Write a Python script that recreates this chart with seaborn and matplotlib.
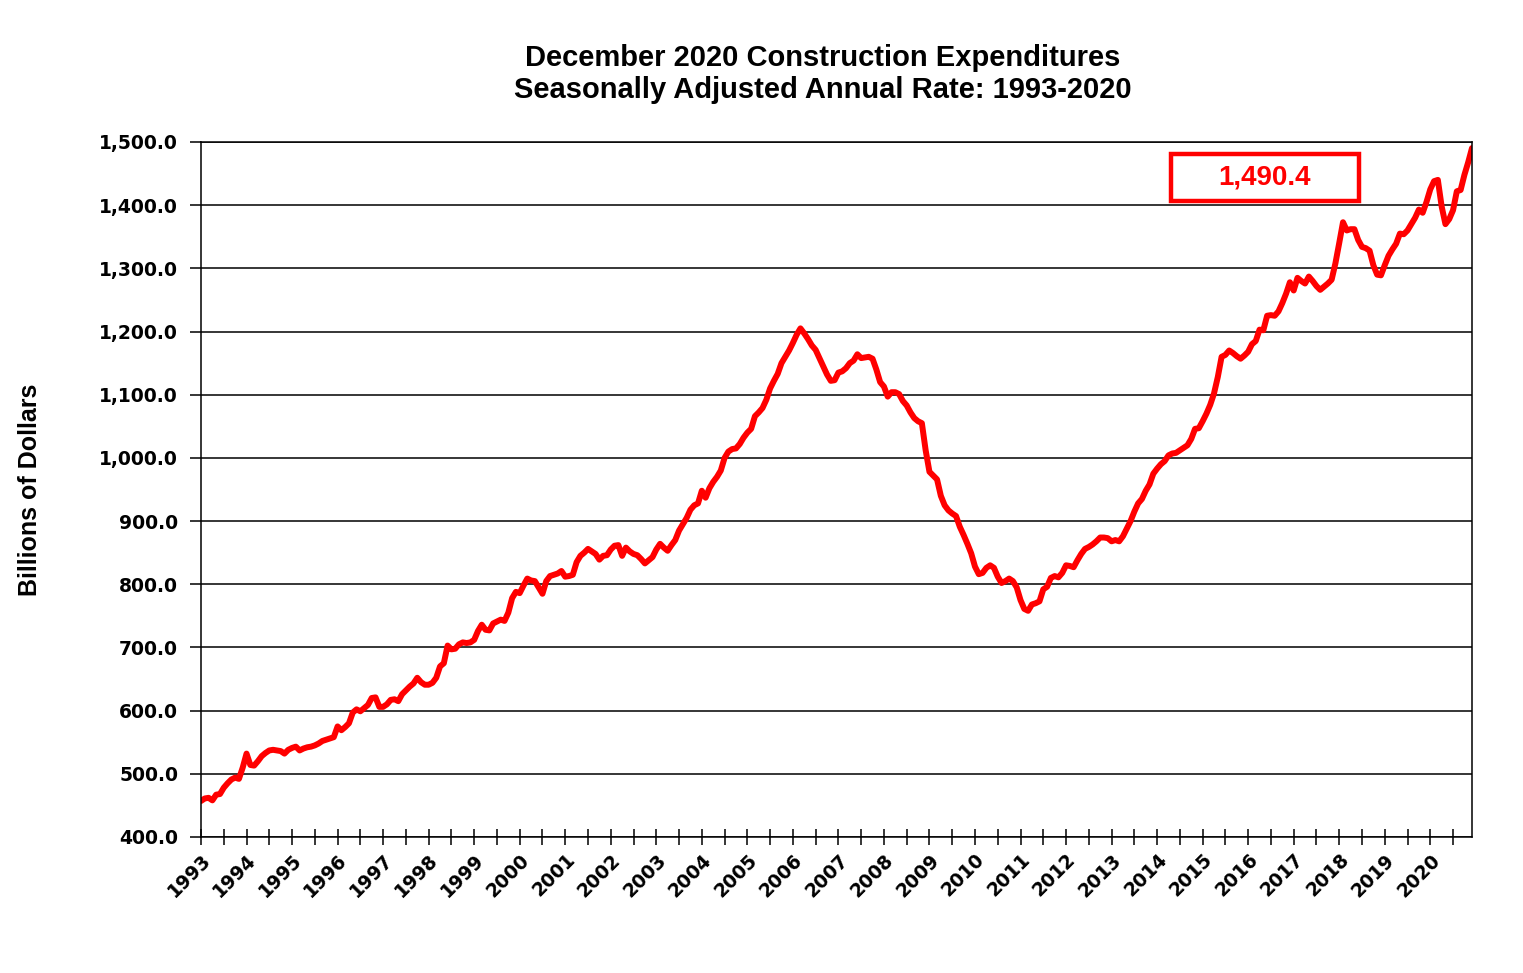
import numpy as np
import pandas as pd
import matplotlib.pyplot as plt
import seaborn as sns
from matplotlib.ticker import FuncFormatter, MultipleLocator
from matplotlib.patches import Rectangle

# Monthly construction spending, SAAR, billions of dollars
years = list(range(1993, 2021))
spend_1993 = [457, 461, 462, 458, 467, 468, 478, 485, 491, 494, 492, 510]
spend_1994 = [532, 514, 513, 520, 528, 533, 537, 538, 537, 536, 532, 538]
spend_1995 = [541, 543, 537, 540, 542, 543, 545, 548, 552, 554, 556, 558]
spend_1996 = [575, 569, 574, 580, 597, 602, 599, 604, 609, 620, 621, 606]
spend_1997 = [606, 610, 617, 618, 615, 626, 632, 638, 643, 652, 645, 641]
spend_1998 = [641, 644, 652, 670, 675, 703, 697, 698, 705, 708, 707, 708]
spend_1999 = [712, 726, 736, 728, 727, 738, 741, 744, 742, 755, 778, 788]
spend_2000 = [786, 798, 809, 806, 805, 795, 785, 805, 813, 815, 817, 821]
spend_2001 = [812, 813, 815, 835, 845, 850, 856, 852, 848, 839, 845, 846]
spend_2002 = [855, 861, 862, 845, 858, 852, 848, 846, 840, 833, 838, 843]
spend_2003 = [855, 864, 858, 853, 862, 870, 885, 895, 905, 918, 925, 928]
spend_2004 = [948, 937, 952, 962, 970, 980, 1000, 1010, 1014, 1015, 1022, 1032]
spend_2005 = [1040, 1046, 1066, 1072, 1079, 1092, 1110, 1122, 1133, 1150, 1160, 1170]
spend_2006 = [1182, 1195, 1205, 1197, 1188, 1178, 1171, 1158, 1145, 1132, 1122, 1123]
spend_2007 = [1135, 1137, 1142, 1150, 1154, 1164, 1158, 1159, 1160, 1157, 1140, 1120]
spend_2008 = [1113, 1097, 1104, 1104, 1101, 1090, 1083, 1072, 1063, 1058, 1055, 1012]
spend_2009 = [978, 972, 966, 940, 925, 917, 912, 908, 891, 878, 864, 849]
spend_2010 = [828, 816, 818, 826, 830, 826, 812, 802, 805, 809, 805, 795]
spend_2011 = [775, 761, 758, 768, 770, 773, 792, 796, 810, 813, 811, 818]
spend_2012 = [830, 829, 827, 838, 848, 856, 859, 863, 868, 874, 874, 873]
spend_2013 = [868, 870, 868, 876, 888, 900, 915, 928, 935, 948, 958, 975]
spend_2014 = [983, 990, 995, 1004, 1007, 1008, 1012, 1016, 1020, 1030, 1046, 1047]
spend_2015 = [1058, 1070, 1084, 1102, 1128, 1160, 1163, 1170, 1166, 1161, 1157, 1162]
spend_2016 = [1168, 1180, 1185, 1203, 1202, 1225, 1226, 1225, 1232, 1245, 1260, 1278]
spend_2017 = [1265, 1285, 1280, 1276, 1287, 1280, 1272, 1266, 1271, 1276, 1282, 1308]
spend_2018 = [1340, 1373, 1360, 1362, 1362, 1345, 1334, 1332, 1328, 1305, 1290, 1289]
spend_2019 = [1305, 1320, 1330, 1339, 1355, 1354, 1360, 1370, 1380, 1393, 1388, 1405]
spend_2020 = [1425, 1438, 1440, 1398, 1370, 1378, 1392, 1422, 1424, 1448, 1468, 1490.4]

yearly = [spend_1993, spend_1994, spend_1995, spend_1996, spend_1997, spend_1998,
          spend_1999, spend_2000, spend_2001, spend_2002, spend_2003, spend_2004,
          spend_2005, spend_2006, spend_2007, spend_2008, spend_2009, spend_2010,
          spend_2011, spend_2012, spend_2013, spend_2014, spend_2015, spend_2016,
          spend_2017, spend_2018, spend_2019, spend_2020]

latest_label = "1,490.4"

# Build the frame
values = np.concatenate(yearly)
df = pd.DataFrame({"Month": np.arange(len(values)), "Spending": values})

sns.set_style("white")
plt.rcParams["font.family"] = ["DejaVu Sans"]
plt.rcParams["text.color"] = "black"
plt.rcParams["axes.labelcolor"] = "black"
plt.rcParams["xtick.color"] = "black"
plt.rcParams["ytick.color"] = "black"

fig = plt.figure(figsize=(15.23, 9.73), dpi=100)
ax = fig.add_axes([201 / 1523, 136 / 973, 1271 / 1523, 695 / 973])

sns.lineplot(data=df, x="Month", y="Spending", color="#ff0000", linewidth=4.3, ax=ax)

# Axes
ax.set_xlim(0, len(values) - 1)
ax.set_ylim(400, 1500)
ax.yaxis.set_major_locator(MultipleLocator(100))
ax.yaxis.set_major_formatter(FuncFormatter(lambda v, p: f"{v:,.1f}"))
ax.grid(axis="y", color="black", linewidth=1.1)
ax.set_axisbelow(True)
for s in ax.spines.values():
    s.set_color("black")
    s.set_linewidth(1.1)

ax.set_xticks(np.arange(0, len(values), 6), minor=True)
ax.set_xticks(np.arange(0, len(values), 12))
ax.set_xticklabels([str(y) for y in years], rotation=45, ha="right",
                   rotation_mode="anchor", fontsize=13.5, fontweight="bold")
ax.tick_params(axis="x", which="both", direction="inout", length=11, width=1.1,
               bottom=True, pad=4)
ax.tick_params(axis="y", direction="out", length=8, width=1.1, left=True,
               labelsize=13.5, pad=8.5)
for lbl in ax.get_yticklabels():
    lbl.set_fontweight("bold")

ax.set_xlabel("")
ax.set_ylabel("Billions of Dollars", fontsize=18, fontweight="bold",
              family=["Liberation Sans", "DejaVu Sans"], labelpad=41)

# Title
fig.text(823 / 1523, 1 - 44 / 973,
         "December 2020 Construction Expenditures\nSeasonally Adjusted Annual Rate: 1993-2020",
         ha="center", va="top", fontsize=21, fontweight="bold",
         family=["Liberation Sans", "DejaVu Sans"], linespacing=1.2)

# Latest value box
ax.add_patch(Rectangle((0.763, 0.915), 0.148, 0.068, transform=ax.transAxes,
                       fill=False, edgecolor="#ff0000", linewidth=3.2, clip_on=False))
ax.text(0.837, 0.949, latest_label, transform=ax.transAxes, ha="center", va="center",
        color="#ff0000", fontsize=20, fontweight="bold",
        family=["Liberation Sans", "DejaVu Sans"])

fig.savefig("out.png", dpi=100, facecolor="white")
